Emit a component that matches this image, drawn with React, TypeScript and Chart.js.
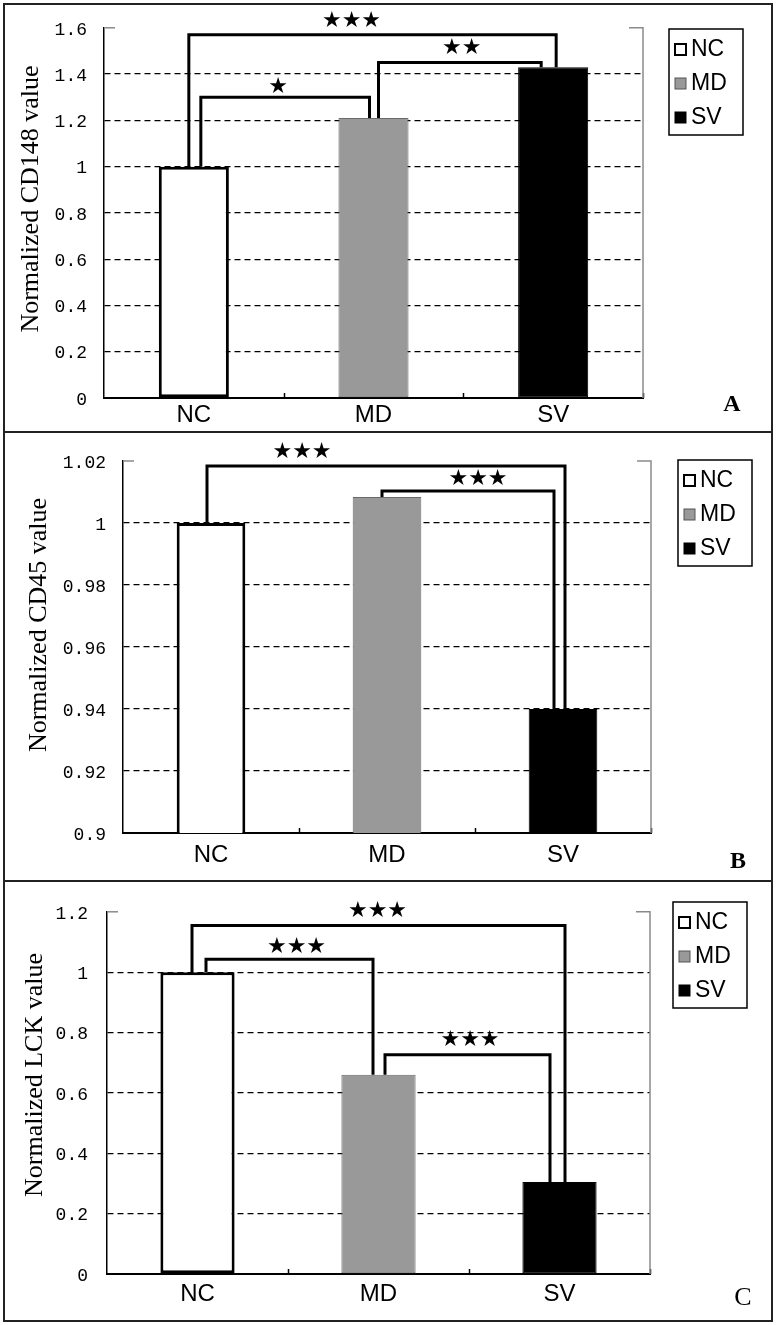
import React, { useEffect, useRef } from 'react';
import { Chart, registerables } from 'chart.js';

Chart.register(...registerables);

// ---------- data ----------
const categories = ['NC', 'MD', 'SV'];
const barColors = ['#ffffff', '#999999', '#000000'];
const barBorderColors = ['#000000', '#6a6a6a', '#000000'];
const barBorderWidths = [3, 1, 1];

const cd148Values = [1.0, 1.21, 1.43];
const cd45Values = [1.0, 1.0084, 0.94];
const lckValues = [1.0, 0.66, 0.305];

const cd148Ticks = ['0', '0.2', '0.4', '0.6', '0.8', '1', '1.2', '1.4', '1.6'];
const cd45Ticks = ['0.9', '0.92', '0.94', '0.96', '0.98', '1', '1.02'];
const lckTicks = ['0', '0.2', '0.4', '0.6', '0.8', '1', '1.2'];

const cd148Brackets = [
  { from: 0, to: 2, level: 1.57, label: '★★★' },
  { from: 0, to: 1, level: 1.3, label: '★' },
  { from: 1, to: 2, level: 1.45, label: '★★' },
];
const cd45Brackets = [
  { from: 0, to: 2, level: 1.0184, label: '★★★' },
  { from: 1, to: 2, level: 1.0103, label: '★★★' },
];
const lckBrackets = [
  { from: 0, to: 2, level: 1.155, label: '★★★' },
  { from: 0, to: 1, level: 1.043, label: '★★★' },
  { from: 1, to: 2, level: 0.726, label: '★★★' },
];

// ---------- styling / layout (not data) ----------
const cd148BracketStyle = [
  { legL: -5, legR: 3, starDx: -21, starDy: 13 },
  { legL: 7, legR: -4, starDx: -7, starDy: 10 },
  { legL: 5, legR: -12, starDx: 2, starDy: 14 },
];
const cd45BracketStyle = [
  { legL: -4, legR: 2, starDx: -84, starDy: 14 },
  { legL: -5, legR: -9, starDx: 10, starDy: 12 },
];
const lckBracketStyle = [
  { legL: -5.5, legR: 5.5, starDx: -1, starDy: 14 },
  { legL: 8.5, legR: -5.5, starDx: 7, starDy: 12 },
  { legL: 6.5, legR: -9.5, starDx: 2.5, starDy: 15 },
];

type PanelCfg = {
  top: number;
  height: number;
  area: { l: number; t: number; r: number; b: number };
  values: number[];
  ticks: string[];
  min: number;
  max: number;
  step: number;
  barPct: number;
  yLabelPad: number;
  xLabelPad: number;
  title: string;
  titlePos: [number, number];
  letter: string;
  letterBold: boolean;
  letterPos: [number, number];
  legendPos: [number, number];
  brackets: { from: number; to: number; level: number; label: string }[];
  bracketStyle: { legL: number; legR: number; starDx: number; starDy: number }[];
};

const panels: PanelCfg[] = [
  {
    top: 0, height: 432,
    area: { l: 104, t: 27, r: 643, b: 398 },
    values: cd148Values, ticks: cd148Ticks, min: 0, max: 1.6, step: 0.2,
    barPct: 0.39, yLabelPad: 17, xLabelPad: 3,
    title: 'Normalized CD148 value', titlePos: [31, 199],
    letter: 'A', letterBold: true, letterPos: [732, 405],
    legendPos: [669, 29],
    brackets: cd148Brackets, bracketStyle: cd148BracketStyle,
  },
  {
    top: 432, height: 450,
    area: { l: 123, t: 29, r: 651, b: 401 },
    values: cd45Values, ticks: cd45Ticks, min: 0.9, max: 1.02, step: 0.02,
    barPct: 0.39, yLabelPad: 17, xLabelPad: 8,
    title: 'Normalized CD45 value', titlePos: [39, 193],
    letter: 'B', letterBold: true, letterPos: [738, 430],
    legendPos: [678, 28],
    brackets: cd45Brackets, bracketStyle: cd45BracketStyle,
  },
  {
    top: 882, height: 443,
    area: { l: 107, t: 17, r: 650, b: 392 },
    values: lckValues, ticks: lckTicks, min: 0, max: 1.2, step: 0.2,
    barPct: 0.41, yLabelPad: 19, xLabelPad: 6,
    title: 'Normalized LCK value', titlePos: [35, 193],
    letter: 'C', letterBold: false, letterPos: [743, 416],
    legendPos: [673, 20],
    brackets: lckBrackets, bracketStyle: lckBracketStyle,
  },
];

function makeDecorPlugin(cfg: PanelCfg) {
  return {
    id: 'decor',
    afterDraw(chart: any) {
      const ctx = chart.ctx as CanvasRenderingContext2D;
      const { left, right, top, bottom } = chart.chartArea;
      const xs = chart.scales.x;
      const ys = chart.scales.y;
      const n = categories.length;
      const cw = (right - left) / n;
      ctx.save();

      // x-axis inner tick marks at category boundaries
      ctx.strokeStyle = '#000';
      ctx.lineWidth = 1.5;
      for (let i = 1; i <= n; i++) {
        const bx = Math.round(left + i * cw) + 0.5;
        ctx.beginPath();
        ctx.moveTo(bx, bottom);
        ctx.lineTo(bx, bottom - 5);
        ctx.stroke();
      }

      // right grey frame line and top ticks
      ctx.strokeStyle = '#8a8a8a';
      ctx.lineWidth = 1.5;
      ctx.beginPath();
      ctx.moveTo(right, bottom);
      ctx.lineTo(right, top);
      ctx.lineTo(right - 14, top);
      ctx.stroke();
      ctx.beginPath();
      ctx.moveTo(left, top);
      ctx.lineTo(left + 11, top);
      ctx.stroke();

      // significance brackets
      ctx.strokeStyle = '#000';
      ctx.lineWidth = 3;
      ctx.lineJoin = 'miter';
      cfg.brackets.forEach((b, k) => {
        const st = cfg.bracketStyle[k];
        const xL = xs.getPixelForValue(b.from) + st.legL;
        const xR = xs.getPixelForValue(b.to) + st.legR;
        const yT = ys.getPixelForValue(b.level);
        const yL = ys.getPixelForValue(cfg.values[b.from]);
        const yR = ys.getPixelForValue(cfg.values[b.to]);
        ctx.beginPath();
        ctx.moveTo(xL, yL);
        ctx.lineTo(xL, yT);
        ctx.lineTo(xR, yT);
        ctx.lineTo(xR, yR);
        ctx.stroke();
        ctx.fillStyle = '#000';
        ctx.font = '22px "DejaVu Sans"';
        ctx.textAlign = 'center';
        ctx.textBaseline = 'middle';
        ctx.fillText(b.label, (xL + xR) / 2 + st.starDx, yT - st.starDy);
      });

      // y-axis title
      ctx.save();
      ctx.translate(cfg.titlePos[0], cfg.titlePos[1]);
      ctx.rotate(-Math.PI / 2);
      ctx.fillStyle = '#000';
      ctx.font = '26px "Liberation Serif"';
      ctx.textAlign = 'center';
      ctx.textBaseline = 'middle';
      ctx.fillText(cfg.title, 0, 0);
      ctx.restore();

      // legend
      const [lx, ly] = cfg.legendPos;
      ctx.strokeStyle = '#000';
      ctx.lineWidth = 1.5;
      ctx.strokeRect(lx, ly, 74, 106);
      categories.forEach((c, i) => {
        const cy = ly + 20 + i * 34;
        ctx.fillStyle = barColors[i];
        ctx.fillRect(lx + 6, cy - 5, 11, 11);
        ctx.strokeStyle = i === 1 ? '#555' : '#000';
        ctx.lineWidth = i === 0 ? 2 : 1;
        ctx.strokeRect(lx + 6, cy - 5, 11, 11);
        ctx.fillStyle = '#000';
        ctx.font = '23px "Liberation Sans"';
        ctx.textAlign = 'left';
        ctx.textBaseline = 'middle';
        ctx.fillText(c, lx + 22, cy + 1);
      });

      // panel letter
      ctx.fillStyle = '#000';
      ctx.font = (cfg.letterBold ? 'bold 24px' : '26px') + ' "Liberation Serif"';
      ctx.textAlign = 'center';
      ctx.textBaseline = 'middle';
      ctx.fillText(cfg.letter, cfg.letterPos[0], cfg.letterPos[1]);

      ctx.restore();
    },
  };
}

function buildConfig(cfg: PanelCfg): any {
  const near = (a: number, b: number) => Math.abs(a - b) < 1e-6;
  return {
    type: 'bar',
    data: {
      labels: categories,
      datasets: [
        {
          data: cfg.values,
          backgroundColor: barColors,
          borderColor: barBorderColors,
          borderWidth: barBorderWidths,
          borderSkipped: false,
          barPercentage: cfg.barPct,
          categoryPercentage: 1,
        },
      ],
    },
    options: {
      responsive: false,
      animation: false,
      devicePixelRatio: 1,
      events: [],
      layout: { padding: { left: 0, top: cfg.area.t, right: 778 - cfg.area.r, bottom: 0 } },
      plugins: { legend: { display: false }, tooltip: { enabled: false } },
      scales: {
        x: {
          offset: true,
          grid: { display: false, drawTicks: false },
          border: { display: true, color: '#000', width: 2 },
          ticks: {
            color: '#000',
            font: { family: '"Liberation Sans", Arial, sans-serif', size: 24 },
            padding: cfg.xLabelPad,
            maxRotation: 0,
            autoSkip: false,
          },
          afterFit: (s: any) => { s.height = cfg.height - cfg.area.b; },
        },
        y: {
          min: cfg.min,
          max: cfg.max,
          beginAtZero: false,
          ticks: {
            stepSize: cfg.step,
            color: '#000',
            font: { family: '"Liberation Mono", monospace', size: 18 },
            padding: cfg.yLabelPad,
            labelOffset: 2,
            callback: (v: number) => cfg.ticks.find((t) => near(parseFloat(t), v)) ?? '',
          },
          grid: {
            drawTicks: false,
            lineWidth: 1.3,
            color: (c: any) => {
              const v = c.tick ? c.tick.value : NaN;
              return near(v, cfg.min) || near(v, cfg.max) ? 'rgba(0,0,0,0)' : '#000';
            },
          },
          border: { display: true, color: '#000', width: 1.5, dash: [6, 4] },
          afterFit: (s: any) => { s.width = cfg.area.l; },
        },
      },
    },
    plugins: [makeDecorPlugin(cfg)],
  };
}

function Panel({ cfg }: { cfg: PanelCfg }) {
  const ref = useRef<HTMLCanvasElement>(null);
  useEffect(() => {
    const chart = new Chart(ref.current as HTMLCanvasElement, buildConfig(cfg));
    return () => chart.destroy();
  }, [cfg]);
  return (
    <canvas
      ref={ref}
      width={778}
      height={cfg.height}
      style={{ position: 'absolute', left: 0, top: cfg.top, width: 778, height: cfg.height, display: 'block' }}
    />
  );
}

export default function App() {
  return (
    <div style={{ position: 'absolute', left: 0, top: 0, width: 778, height: 1325, background: '#fff', overflow: 'hidden' }}>
      {panels.map((p, i) => (
        <Panel key={i} cfg={p} />
      ))}
      <div style={{ position: 'absolute', left: 3, top: 3, width: 770, height: 1319, border: '2px solid #222', boxSizing: 'border-box' }} />
      <div style={{ position: 'absolute', left: 3, top: 431, width: 770, height: 2, background: '#222' }} />
      <div style={{ position: 'absolute', left: 3, top: 880, width: 770, height: 2, background: '#222' }} />
    </div>
  );
}
